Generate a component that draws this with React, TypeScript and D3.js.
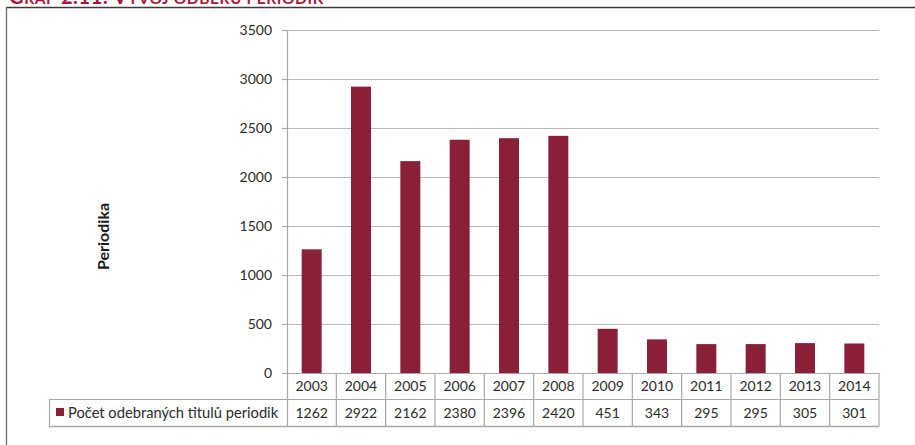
import React from "react";
import * as d3 from "d3";

const years = ["2003","2004","2005","2006","2007","2008","2009","2010","2011","2012","2013","2014"];
const values = [1262, 2922, 2162, 2380, 2396, 2420, 451, 343, 295, 295, 305, 301];
const yTicks = [0, 500, 1000, 1500, 2000, 2500, 3000, 3500];
const seriesName = "Počet odebraných titulů periodik";
const yTitle = "Periodika";

const W = 915, H = 445;
const left = 287, right = 879, top = 30, zero = 373;
const row1 = 399, row2 = 426, legendLeft = 49;
const barColor = "#8a1f38";
const font = "Lato, 'Open Sans', sans-serif";

export default function App() {
  const y = d3.scaleLinear().domain([0, 3500]).range([zero, top]);
  const xb = d3.scaleBand().domain(years).range([left, right]).paddingInner(0.595).paddingOuter(0.2975);
  const xc = d3.scaleBand().domain(years).range([left, right]).padding(0);
  return (
    <svg width={W} height={H} style={{ position: "absolute", left: 0, top: 0 }} fontFamily={font}>
      <rect x={0} y={0} width={W} height={H} fill="#fff" />
      {/* title, partly cut off at the top edge as in the reference */}
      <text x={9} y={4} fill="#a8163c" fontWeight="bold" fontSize={20} letterSpacing={0.6}>
        <tspan>G</tspan><tspan fontSize={15.5}>RAF</tspan><tspan> 2.11: V</tspan><tspan fontSize={15.5}>ÝVOJ ODBĚRU PERIODIK</tspan>
      </text>
      {/* frame */}
      <line x1={6.5} y1={7.5} x2={W} y2={7.5} stroke="#3c3c3c" strokeWidth={1.3} />
      <line x1={6.5} y1={7} x2={6.5} y2={H} stroke="#6a6a6a" strokeWidth={1.3} />
      {/* gridlines & ticks */}
      {yTicks.map(t => (
        <g key={t}>
          {t > 0 && <line x1={left} x2={right} y1={Math.round(y(t)) + 0.5} y2={Math.round(y(t)) + 0.5} stroke="#b8b8b8" strokeWidth={1.2} />}
          <line x1={282} x2={left} y1={Math.round(y(t)) + 0.5} y2={Math.round(y(t)) + 0.5} stroke="#a8a8a8" strokeWidth={1.2} />
          <text x={272} y={y(t)} dy="0.35em" textAnchor="end" fontSize={14} fill="#2b2b2b">{t}</text>
        </g>
      ))}
      {/* bars */}
      {years.map((yr, i) => (
        <rect key={yr} x={xb(yr)} y={y(values[i])} width={xb.bandwidth()} height={zero - y(values[i])} fill={barColor} />
      ))}
      {/* axis line */}
      <line x1={left + 0.5} x2={left + 0.5} y1={top} y2={row2} stroke="#a8a8a8" strokeWidth={1.2} />
      <line x1={left} x2={right} y1={zero + 0.5} y2={zero + 0.5} stroke="#a8a8a8" strokeWidth={1.2} />
      {/* table */}
      <line x1={legendLeft} x2={right} y1={row1 + 0.5} y2={row1 + 0.5} stroke="#a8a8a8" strokeWidth={1.2} />
      <line x1={legendLeft} x2={right} y1={row2 + 0.5} y2={row2 + 0.5} stroke="#a8a8a8" strokeWidth={1.5} />
      <line x1={legendLeft + 0.5} x2={legendLeft + 0.5} y1={row1} y2={row2} stroke="#a8a8a8" strokeWidth={1.2} />
      {years.map((yr, i) => (
        <g key={yr}>
          <line x1={(xc(yr) as number) + xc.bandwidth()} x2={(xc(yr) as number) + xc.bandwidth()} y1={zero} y2={row2} stroke="#a8a8a8" strokeWidth={1.2} />
          <text x={(xc(yr) as number) + xc.bandwidth() / 2} y={(zero + row1) / 2} dy="0.36em" textAnchor="middle" fontSize={14} fill="#2b2b2b">{yr}</text>
          <text x={(xc(yr) as number) + xc.bandwidth() / 2} y={(row1 + row2) / 2} dy="0.36em" textAnchor="middle" fontSize={14} fill="#2b2b2b">{values[i]}</text>
        </g>
      ))}
      <rect x={56} y={408} width={8} height={8} fill={barColor} />
      <text x={68} y={(row1 + row2) / 2} dy="0.36em" fontSize={14.7} fill="#2b2b2b">{seriesName}</text>
      {/* y title */}
      <text transform={`translate(103,236.5) rotate(-90)`} textAnchor="middle" dy="0.35em" fontSize={16} fontWeight="bold" fill="#1a1a1a">{yTitle}</text>
    </svg>
  );
}
